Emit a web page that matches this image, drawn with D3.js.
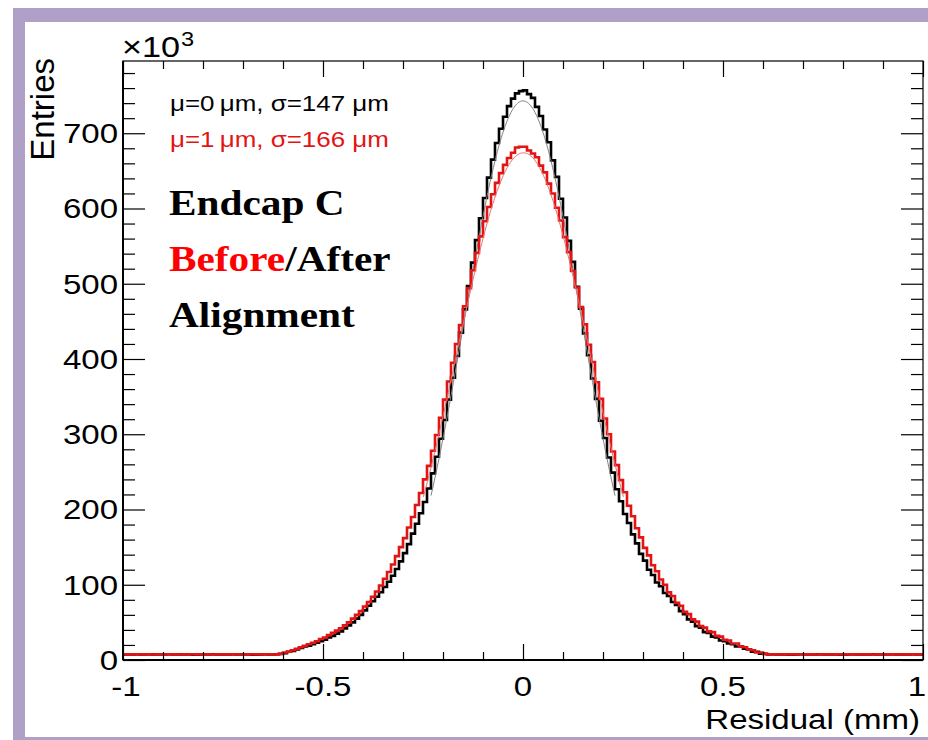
<!DOCTYPE html>
<html>
<head>
<meta charset="utf-8">
<script src="https://cdn.jsdelivr.net/npm/d3@7"></script>
<style>
  html, body { margin: 0; padding: 0; background: #ffffff; }
  svg { display: block; }
</style>
</head>
<body>
<svg id="chart" width="928" height="740"></svg>
<script>
// ---- axis ticks and labels ----
const xTickValues = [-1, -0.5, 0, 0.5, 1];
const xTickLabels = ["-1", "-0.5", "0", "0.5", "1"];
const yTickValues = [0, 100, 200, 300, 400, 500, 600, 700];
const yTickLabels = ["0", "100", "200", "300", "400", "500", "600", "700"];

// ---- histogram binning: 200 bins of 0.01 mm from -1 to 1 mm ----
const xRange = [-1, 1];
const nBins = 200;

// ---- entries per bin (x10^3), after alignment ----
const afterCounts = [
  7.4, 7.5, 7.5, 7.6, 7.4, 7.5, 7.6, 7.5, 7.4, 7.5,
  7.5, 7.6, 7.5, 7.4, 7.5, 7.5, 7.6, 7.0, 7.1, 7.5,
  7.5, 7.4, 7.6, 7.5, 7.5, 7.4, 7.5, 7.6, 7.5, 7.5,
  7.4, 7.5, 7.1, 7.0, 7.5, 7.6, 7.5, 7.5, 7.6, 8,
  9, 11, 12, 14, 16, 18, 19, 21, 23, 25,
  27, 30, 32, 35, 38, 42, 46, 50, 55, 60,
  66, 72, 78, 84, 90, 97, 104, 112, 121, 131,
  142, 154, 168, 181, 195, 210, 228, 248, 270, 294,
  319, 346, 375, 404, 435, 466, 497, 528, 558, 587,
  614, 641, 665, 687, 706, 722, 736, 746, 753, 756,
  757, 752, 747, 735, 723, 705, 688, 664, 642, 613,
  588, 557, 529, 496, 467, 434, 405, 374, 347, 318,
  295, 269, 249, 227, 211, 194, 182, 167, 155, 141,
  132, 120, 113, 103, 98, 89, 85, 77, 73, 65,
  61, 54, 51, 45, 43, 37, 36, 31, 30, 26,
  25, 22, 21, 18, 18, 15, 14, 11, 11, 8.5,
  8, 7.5, 7.6, 7.4, 7.5, 7.5, 7.0, 7.1, 7.5, 7.6,
  7.5, 7.4, 7.5, 7.5, 7.6, 7.5, 7.4, 7.5, 7.5, 7.1,
  7.0, 7.5, 7.6, 7.5, 7.4, 7.5, 7.5, 7.6, 7.5, 7.4,
  7.5, 7.5, 7.6, 7.5, 7.4, 7.5, 7.5, 7.6, 7.5, 7.5
];

// ---- entries per bin (x10^3), before alignment ----
const beforeCounts = [
  7.6, 7.5, 7.5, 7.5, 7.6, 7.5, 7.5, 7.4, 7.5, 7.5,
  7.6, 7.5, 7.5, 7.5, 7.4, 7.5, 7.5, 7.6, 7.5, 7.5,
  7.5, 7.5, 7.4, 7.5, 7.6, 7.5, 7.5, 7.5, 7.5, 7.4,
  7.5, 7.5, 7.6, 7.5, 7.5, 7.5, 7.6, 7.5, 7.5, 8.5,
  10, 11, 13, 15, 17, 19, 21, 23, 25, 28,
  30, 33, 36, 39, 42, 46, 50, 55, 60, 65,
  71, 77, 84, 91, 99, 108, 117, 127, 138, 150,
  162, 176, 190, 206, 222, 240, 258, 278, 299, 322,
  346, 370, 395, 420, 445, 470, 494, 518, 541, 563,
  583, 602, 619, 634, 647, 658, 667, 674, 681, 682,
  682, 677, 673, 668, 657, 648, 633, 620, 601, 584,
  562, 542, 517, 495, 469, 446, 419, 396, 369, 347,
  321, 300, 277, 259, 239, 223, 205, 191, 175, 163,
  149, 139, 126, 118, 107, 100, 90, 85, 76, 72,
  64, 61, 54, 51, 45, 43, 38, 37, 32, 31,
  27, 26, 22, 22, 18, 17, 14, 13, 10, 10,
  8.5, 7.5, 7.5, 7.6, 7.5, 7.5, 7.4, 7.5, 7.5, 7.6,
  7.5, 7.5, 7.5, 7.4, 7.5, 7.6, 7.5, 7.5, 7.5, 7.5,
  7.4, 7.5, 7.5, 7.6, 7.5, 7.5, 7.5, 7.4, 7.5, 7.5,
  7.6, 7.5, 7.5, 7.5, 7.4, 7.5, 7.5, 7.6, 7.5, 7.5
];

// ---- Gaussian fits: [after, before] ----
const fitMeans = [0.000, 0.001];       // mm
const fitSigmas = [0.147, 0.166];      // mm
const fitAmplitudes = [743, 674];      // x10^3 entries
const fitHalfRanges = [0.23, 0.25];    // mm around the mean

const statLines = ["\u03BC=0\u2009\u03BCm, \u03C3=147 \u03BCm", "\u03BC=1\u2009\u03BCm, \u03C3=166 \u03BCm"];

// ---- drawing ----
const svg = d3.select("#chart");
const W = 928, H = 740;
const plot = { left: 123, right: 923, top: 61, bottom: 660 };
const yMax = 796;
const SX = 1.18;              // horizontal text stretch
const sans = "'Liberation Sans', Arial, Helvetica, sans-serif";
const serif = "'Liberation Serif', 'Times New Roman', serif";
const colAfter = "#000000";
const colBefore = "#e31414";

// page frame
svg.append("rect").attr("x", 0).attr("y", 0).attr("width", W).attr("height", H).attr("fill", "#ffffff");
const frameCol = "#b09fc6";
svg.append("rect").attr("x", 13).attr("y", 8).attr("width", W - 13).attr("height", 14).attr("fill", frameCol);
svg.append("rect").attr("x", 13).attr("y", 8).attr("width", 12).attr("height", H - 8).attr("fill", frameCol);
svg.append("rect").attr("x", 13).attr("y", 737).attr("width", W - 13).attr("height", 3).attr("fill", frameCol);

const x = d3.scaleLinear().domain(xRange).range([plot.left, plot.right]);
const y = d3.scaleLinear().domain([0, yMax]).range([plot.bottom, plot.top]);

// clip region for the data
svg.append("clipPath").attr("id", "plotClip")
  .append("rect").attr("x", plot.left).attr("y", plot.top)
  .attr("width", plot.right - plot.left).attr("height", plot.bottom - plot.top);

const binWidth = (xRange[1] - xRange[0]) / nBins;
function histPoints(counts) {
  const pts = counts.map((v, i) => [xRange[0] + i * binWidth, v]);
  pts.push([xRange[1], counts[counts.length - 1]]);
  return pts;
}
const stepLine = d3.line().x(d => x(d[0])).y(d => y(d[1])).curve(d3.curveStepAfter);
const smoothLine = d3.line().x(d => x(d[0])).y(d => y(d[1]));

function fitPoints(k) {
  const mu = fitMeans[k], s = fitSigmas[k], a = fitAmplitudes[k], hr = fitHalfRanges[k];
  return d3.range(mu - hr, mu + hr + 1e-9, 0.002).map(t => [t, a * Math.exp(-0.5 * ((t - mu) / s) ** 2)]);
}

const data = svg.append("g").attr("clip-path", "url(#plotClip)");
data.append("path").attr("d", stepLine(histPoints(afterCounts)))
  .attr("fill", "none").attr("stroke", colAfter).attr("stroke-width", 2.6);
data.append("path").attr("d", smoothLine(fitPoints(0)))
  .attr("fill", "none").attr("stroke", "#808080").attr("stroke-width", 1);
data.append("path").attr("d", stepLine(histPoints(beforeCounts)))
  .attr("fill", "none").attr("stroke", colBefore).attr("stroke-width", 2.6);
data.append("path").attr("d", smoothLine(fitPoints(1)))
  .attr("fill", "none").attr("stroke", "#e87070").attr("stroke-width", 1);

// axes: inward major and minor ticks on all four sides
const xMinor = d3.range(-10, 11).map(i => i / 10).filter(v => !xTickValues.includes(v));
const yMinor = d3.range(0, 800, 20).filter(v => v % 100 !== 0);
function tickAxis(gen, tx, ty) {
  const g = svg.append("g").attr("transform", `translate(${tx},${ty})`).call(gen);
  g.select(".domain").remove();
  g.selectAll("line").attr("stroke", "#000").attr("stroke-width", 1.2);
  return g;
}
tickAxis(d3.axisBottom(x).tickValues(xTickValues).tickSize(-16).tickSizeOuter(0).tickFormat(""), 0, plot.bottom);
tickAxis(d3.axisBottom(x).tickValues(xMinor).tickSize(-8).tickSizeOuter(0).tickFormat(""), 0, plot.bottom);
tickAxis(d3.axisTop(x).tickValues(xTickValues).tickSize(-16).tickSizeOuter(0).tickFormat(""), 0, plot.top);
tickAxis(d3.axisTop(x).tickValues(xMinor).tickSize(-8).tickSizeOuter(0).tickFormat(""), 0, plot.top);
tickAxis(d3.axisLeft(y).tickValues(yTickValues).tickSize(-22).tickSizeOuter(0).tickFormat(""), plot.left, 0);
tickAxis(d3.axisLeft(y).tickValues(yMinor).tickSize(-12).tickSizeOuter(0).tickFormat(""), plot.left, 0);
tickAxis(d3.axisRight(y).tickValues(yTickValues).tickSize(-22).tickSizeOuter(0).tickFormat(""), plot.right, 0);
tickAxis(d3.axisRight(y).tickValues(yMinor).tickSize(-12).tickSizeOuter(0).tickFormat(""), plot.right, 0);

// frame of the pad
svg.append("rect").attr("x", plot.left).attr("y", plot.top)
  .attr("width", plot.right - plot.left).attr("height", plot.bottom - plot.top)
  .attr("fill", "none").attr("stroke", "#000").attr("stroke-width", 1.2);
svg.append("line").attr("x1", plot.left).attr("x2", plot.left).attr("y1", plot.top).attr("y2", plot.bottom)
  .attr("stroke", "#000").attr("stroke-width", 2);
svg.append("line").attr("x1", plot.left).attr("x2", plot.right).attr("y1", plot.bottom).attr("y2", plot.bottom)
  .attr("stroke", "#000").attr("stroke-width", 2);

// text helper with horizontal stretch
function stext(px, py, str, size, opts = {}) {
  const g = svg.append("g").attr("transform", `translate(${px},${py}) scale(${opts.sx || SX},1)`);
  return g.append("text")
    .attr("x", 0).attr("y", 0)
    .attr("text-anchor", opts.anchor || "start")
    .attr("font-family", opts.family || sans)
    .attr("font-weight", opts.weight || "normal")
    .attr("font-size", size)
    .attr("fill", opts.fill || "#000")
    .text(str);
}

// tick labels (the last one nudged in so it stays inside the page)
const xLabelShift = [3, 0, 0, 0, -6];
xTickValues.forEach((v, i) => stext(x(v) + xLabelShift[i], 696, xTickLabels[i], 28, { anchor: "middle" }));
yTickValues.forEach((v, i) => stext(118, y(v) + 10, yTickLabels[i], 28, { anchor: "end" }));

// axis titles
stext(920, 729, "Residual (mm)", 28, { anchor: "end" });
svg.append("text")
  .attr("transform", `translate(53.5,58) rotate(-90)`)
  .attr("text-anchor", "end")
  .attr("font-family", sans).attr("font-size", 33)
  .text("Entries");

// exponent
stext(122, 57, "\u00D710", 29);
stext(181, 46, "3", 20);

// fit results
stext(170, 111, statLines[0], 22, { fill: "#000" });
stext(170, 147, statLines[1], 22, { fill: colBefore });

// caption
stext(169, 215, "Endcap C", 35, { family: serif, weight: "bold" });
const t2 = stext(169, 271, "", 35, { family: serif, weight: "bold" });
t2.append("tspan").attr("fill", "#ff0000").text("Before");
t2.append("tspan").attr("fill", "#000").text("/After");
stext(169, 327, "Alignment", 35, { family: serif, weight: "bold" });
</script>
</body>
</html>
